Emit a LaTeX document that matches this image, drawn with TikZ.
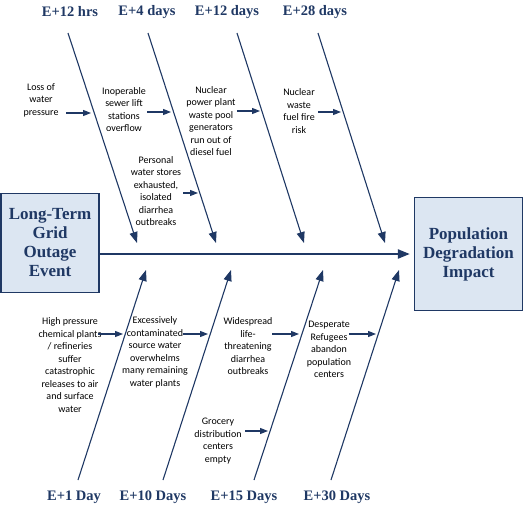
\documentclass[tikz,border=0pt]{standalone}
\usepackage{fontspec}
\setmainfont{Carlito}
\newfontfamily\titlefont{Liberation Serif}
\usetikzlibrary{arrows.meta}
\definecolor{navy}{RGB}{31,56,100}
\definecolor{boxfill}{RGB}{220,230,242}
\begin{document}
\begin{tikzpicture}[x=1pt,y=-1pt,
 cause/.style={align=center,font=\fontsize{10}{12.5}\selectfont,inner sep=0pt},
 era/.style={font=\titlefont\bfseries\fontsize{14.5}{16}\selectfont,text=navy,inner sep=0pt},
 bigbox/.style={draw=navy,line width=1.3pt,fill=boxfill,font=\titlefont\bfseries\fontsize{17}{19}\selectfont,text=navy,align=center,inner sep=0pt},
 bone/.style={navy,line width=1.1pt,-{Triangle[length=11pt,width=8pt]}},
 feed/.style={navy,line width=1.1pt,-{Triangle[length=8pt,width=6pt]}},
 spine/.style={navy,line width=2.2pt,-{Triangle[length=12pt,width=9pt]}}]
\useasboundingbox (0,0) rectangle (524,509);

% effect / cause boxes
\node[bigbox,minimum width=98pt,minimum height=99pt] (cause) at (50,243) {Long-Term\\Grid\\Outage\\Event};
\node[bigbox,minimum width=108pt,minimum height=113pt] (effect) at (468.5,254) {Population\\Degradation\\Impact};

% spine
\coordinate (sp) at (0,254);
\draw[spine,shorten >=4pt] (cause.east |- sp) -- (effect.west |- sp);

% era labels
\node[era] (e1) at (70,12) {E+12 hrs};
\node[era] (e2) at (147,12) {E+4 days};
\node[era] (e3) at (227,12) {E+12 days};
\node[era] (e4) at (315,12) {E+28 days};
\node[era] (f1) at (74,497) {E+1 Day};
\node[era] (f2) at (153,497) {E+10 Days};
\node[era] (f3) at (244,497) {E+15 Days};
\node[era] (f4) at (337,497) {E+30 Days};

% top bones
\coordinate (b1s) at (68,33);  \coordinate (b1e) at (137,243);
\coordinate (b2s) at (148,33); \coordinate (b2e) at (216,243);
\coordinate (b3s) at (237,33); \coordinate (b3e) at (304,243);
\coordinate (b4s) at (318,33); \coordinate (b4e) at (385,243);
\foreach \i in {1,2,3,4} \draw[bone] (b\i s) -- (b\i e);

% bottom bones
\coordinate (c1s) at (78,480);  \coordinate (c1e) at (146,270);
\coordinate (c2s) at (163,480); \coordinate (c2e) at (231,270);
\coordinate (c3s) at (254,480); \coordinate (c3e) at (323,270);
\coordinate (c4s) at (331,480); \coordinate (c4e) at (399,270);
\foreach \i in {1,2,3,4} \draw[bone] (c\i s) -- (c\i e);

% top causes
\node[cause] (n1) at (41,100) {Loss of\\water\\pressure};
\node[cause] (n2) at (124,109.5) {Inoperable\\sewer lift\\stations\\overflow};
\node[cause] (n3) at (211,121) {Nuclear\\power plant\\waste pool\\generators\\run out of\\diesel fuel};
\node[cause] (n4) at (156,191) {Personal\\water stores\\exhausted,\\isolated\\diarrhea\\outbreaks};
\node[cause] (n5) at (299,111) {Nuclear\\waste\\fuel fire\\risk};

% bottom causes
\node[cause] (m1) at (70,365) {High pressure\\chemical plants\\/ refineries\\suffer\\catastrophic\\releases to air\\and surface\\water};
\node[cause] (m2) at (155,352.5) {Excessively\\contaminated\\source water\\overwhelms\\many remaining\\water plants};
\node[cause] (m3) at (248,346.5) {Widespread\\life-\\threatening\\diarrhea\\outbreaks};
\node[cause] (m4) at (329,349.5) {Desperate\\Refugees\\abandon\\population\\centers};
\node[cause] (m5) at (218,441) {Grocery\\distribution\\centers\\empty};

% feeder arrows
\coordinate (a1s) at (66,113);  \coordinate (a1e) at (91,113);
\coordinate (a2s) at (147,112); \coordinate (a2e) at (171,112);
\coordinate (a3s) at (237,111); \coordinate (a3e) at (260,111);
\coordinate (a4s) at (183,193); \coordinate (a4e) at (198,193);
\coordinate (a5s) at (318,112); \coordinate (a5e) at (341,112);
\coordinate (d1s) at (98,334);  \coordinate (d1e) at (123,334);
\coordinate (d2s) at (183,334); \coordinate (d2e) at (208,334);
\coordinate (d3s) at (272,334); \coordinate (d3e) at (299,334);
\coordinate (d4s) at (349,334); \coordinate (d4e) at (376,334);
\coordinate (d5s) at (245,431); \coordinate (d5e) at (268,431);
\foreach \k in {a1,a2,a3,a4,a5,d1,d2,d3,d4,d5} \draw[feed] (\k s) -- (\k e);
\end{tikzpicture}
\end{document}
